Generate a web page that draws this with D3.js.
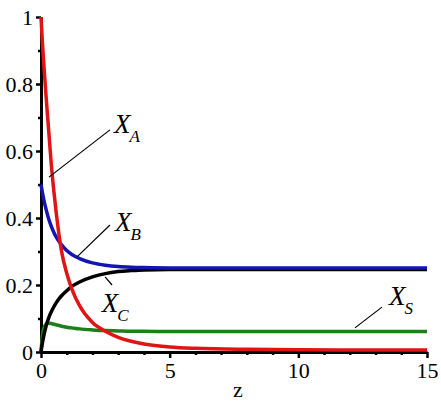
<!DOCTYPE html>
<html>
<head>
<meta charset="utf-8">
<script src="https://cdn.jsdelivr.net/npm/d3@7"></script>
<style>
  body { margin: 0; background: #fff; }
  svg { display: block; }
</style>
</head>
<body>
<svg width="441" height="408"></svg>
<script>
// z grid shared by all curves
var zValues = [0, 0.05, 0.1, 0.2, 0.3, 0.4, 0.5, 0.6, 0.7, 0.8, 1.0, 1.2, 1.5, 2, 2.5, 3, 3.5, 4, 5, 6, 8, 10, 12, 15];
var xA = [1.0, 0.93, 0.87, 0.76, 0.66, 0.56, 0.48, 0.41, 0.35, 0.30, 0.235, 0.188, 0.138, 0.088, 0.062, 0.044, 0.032, 0.024, 0.015, 0.011, 0.008, 0.007, 0.006, 0.006];
var xB = [0.50, 0.478, 0.458, 0.425, 0.397, 0.375, 0.357, 0.342, 0.33, 0.32, 0.303, 0.291, 0.279, 0.266, 0.259, 0.255, 0.253, 0.252, 0.251, 0.251, 0.251, 0.251, 0.251, 0.251];
var xC = [0, 0.025, 0.045, 0.078, 0.102, 0.12, 0.135, 0.148, 0.159, 0.168, 0.183, 0.196, 0.209, 0.224, 0.234, 0.24, 0.243, 0.245, 0.246, 0.246, 0.246, 0.246, 0.246, 0.246];
var xS = [0, 0.045, 0.068, 0.083, 0.086, 0.085, 0.083, 0.081, 0.079, 0.077, 0.074, 0.072, 0.069, 0.066, 0.064, 0.063, 0.062, 0.062, 0.061, 0.061, 0.061, 0.061, 0.061, 0.061];

var xMajor = [0, 5, 10, 15];
var xMinor = [1, 2, 3, 4, 6, 7, 8, 9, 11, 12, 13, 14];
var yMajor = [0, 0.2, 0.4, 0.6, 0.8, 1];
var yMinor = [0.1, 0.3, 0.5, 0.7, 0.9];

// drawing order: last one on top
var series = [
    {sub: "S", values: xS, color: "#1b7f1b"},
    {sub: "C", values: xC, color: "#000000"},
    {sub: "B", values: xB, color: "#1414b4"},
    {sub: "A", values: xA, color: "#e01414"}
];

// labels and leader lines, in data units
var notes = [
    {sub: "A", tz: 2.84, ty: 0.654, z1: 2.68, y1: 0.663, z2: 0.31, y2: 0.522},
    {sub: "B", tz: 2.88, ty: 0.361, z1: 2.68, y1: 0.379, z2: 1.40, y2: 0.284},
    {sub: "C", tz: 2.36, ty: 0.119, z1: 2.49, y1: 0.224, z2: 2.76, y2: 0.200},
    {sub: "S", tz: 13.52, ty: 0.140, z1: 13.25, y1: 0.134, z2: 12.2, y2: 0.072}
];

var svg = d3.select("svg");
var xScale = d3.scaleLinear().domain([0, 15]).range([41, 427]);
var yScale = d3.scaleLinear().domain([0, 1]).range([352, 17]);

var font = '"Liberation Serif", "Liberation Sans Narrow", "Liberation Sans", serif';

// minor ticks first
svg.append("g").attr("transform", "translate(0,352)")
    .call(d3.axisBottom(xScale).tickValues(xMinor).tickSize(3).tickFormat(""))
    .call(function (g) { g.select(".domain").remove(); g.selectAll("line").attr("stroke-width", 2.5); });
svg.append("g").attr("transform", "translate(41,0)")
    .call(d3.axisLeft(yScale).tickValues(yMinor).tickSize(3).tickFormat(""))
    .call(function (g) { g.select(".domain").remove(); g.selectAll("line").attr("stroke-width", 2.5); });

var xAxis = d3.axisBottom(xScale).tickValues(xMajor).tickSize(6).tickSizeOuter(0).tickPadding(4).tickFormat(d3.format("d"));
svg.append("g").attr("transform", "translate(0,352)").call(xAxis)
    .call(function (g) {
        g.attr("font-family", null);
        g.select(".domain").attr("stroke-width", 3);
        g.selectAll("line").attr("stroke-width", 2.5);
        g.selectAll("text").style("font-family", font).style("font-size", "22px").attr("fill", "#000");
    });

var yAxis = d3.axisLeft(yScale).tickValues(yMajor).tickSize(5).tickSizeOuter(0).tickPadding(3)
    .tickFormat(function (d) { return String(+d.toFixed(1)); });
svg.append("g").attr("transform", "translate(41,0)").call(yAxis)
    .call(function (g) {
        g.attr("font-family", null);
        g.select(".domain").attr("stroke-width", 3);
        g.selectAll("line").attr("stroke-width", 2.5);
        g.selectAll("text").style("font-family", font).style("font-size", "22px").attr("fill", "#000");
    });

svg.append("text").attr("x", 238).attr("y", 397).attr("text-anchor", "middle")
    .style("font-family", font).style("font-size", "22px").text("z");

var line = d3.line()
    .x(function (d) { return xScale(d[0]); })
    .y(function (d) { return yScale(d[1]); })
    .curve(d3.curveMonotoneX);

svg.selectAll("path.curve").data(series).enter().append("path")
    .attr("class", "curve")
    .attr("fill", "none")
    .attr("stroke", function (d) { return d.color; })
    .attr("stroke-width", 3.5)
    .attr("d", function (d) { return line(d.values.map(function (v, i) { return [zValues[i], v]; })); });

svg.selectAll("line.leader").data(notes).enter().append("line")
    .attr("class", "leader")
    .attr("x1", function (d) { return xScale(d.z1); })
    .attr("y1", function (d) { return yScale(d.y1); })
    .attr("x2", function (d) { return xScale(d.z2); })
    .attr("y2", function (d) { return yScale(d.y2); })
    .attr("stroke", "#000").attr("stroke-width", 1.2);

var labels = svg.selectAll("text.label").data(notes).enter().append("text")
    .attr("class", "label")
    .attr("x", function (d) { return xScale(d.tz); })
    .attr("y", function (d) { return yScale(d.ty); })
    .style("font-family", font).style("font-style", "italic").style("font-size", "27px");
labels.append("tspan").text("X");
labels.append("tspan").attr("dy", 9).attr("dx", -1).style("font-size", "17px").text(function (d) { return d.sub; });
</script>
</body>
</html>
